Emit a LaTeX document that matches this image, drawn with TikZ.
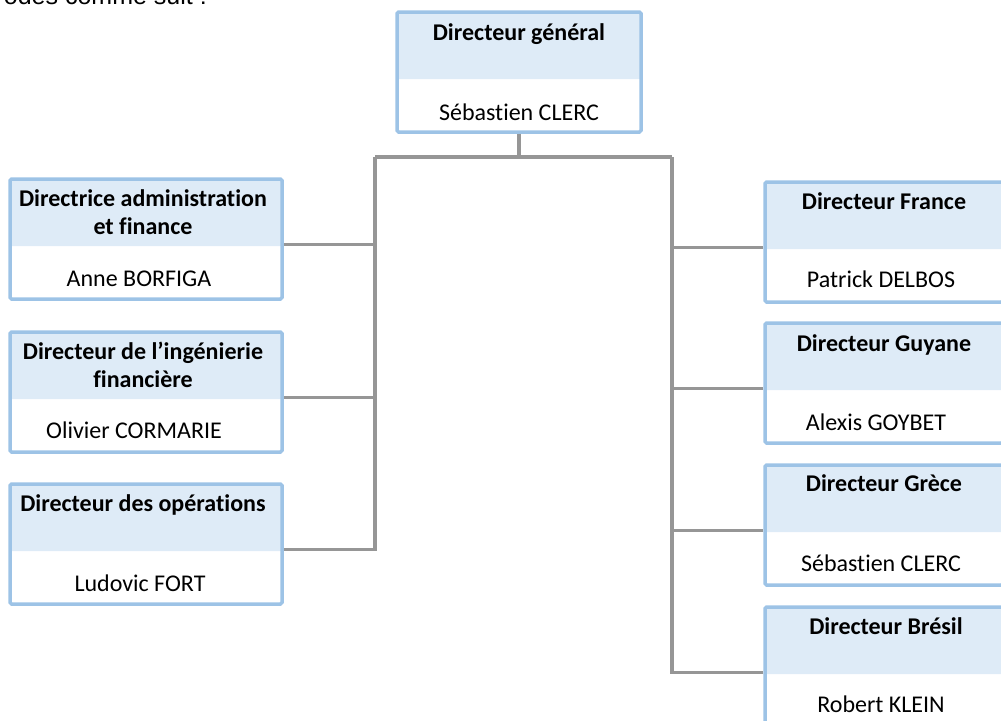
\documentclass[tikz,border=0pt]{standalone}
\usepackage{fontspec}
\setmainfont[Ligatures={NoCommon}]{Carlito}
\newfontfamily\introfont{Liberation Sans}
\usetikzlibrary{positioning}
\definecolor{boxline}{HTML}{9DC3E6}
\definecolor{boxhead}{HTML}{DEEBF7}
\definecolor{wire}{HTML}{969696}

\begin{document}
\begin{tikzpicture}[x=1pt,y=-1pt,
    unit/.style={draw=boxline, line width=3.5pt, rounded corners=1.5pt,
      minimum width=#1, minimum height=120pt, inner sep=0pt,
      path picture={\fill[boxhead] (path picture bounding box.north west)
        rectangle ([yshift=-67pt]path picture bounding box.north east);}},
    title/.style={font=\fontsize{24}{27.5}\selectfont\bfseries, align=center, inner sep=0pt, anchor=base},
    person/.style={font=\fontsize{24}{28}\selectfont, inner sep=0pt, anchor=base},
    wire/.style={draw=wire, line width=3.5pt}]
  \useasboundingbox (0,0) rectangle (1001,720);
  \clip (0,0) rectangle (1001,720);
    %end of the sentence above the chart, cut by the page
  \node[font=\introfont\fontsize{25}{30}\selectfont, inner sep=0pt, anchor=base east] (intro) at (207,5) {odes comme suit :};

    %boxes: the header colour stops where the connector comes in
  \node[unit=244pt] (dg) at (519,72) {};
  \node[unit=272pt] (daf) at (146,239) {};
  \node[unit=272pt] (ding) at (146,392) {};
  \node[unit=272pt] (dop) at (146,544) {};
  \node[unit=238pt] (dfr) at (884,242) {};
  \node[unit=238pt] (dguy) at (884,383) {};
  \node[unit=238pt] (dgre) at (884,525) {};
  \node[unit=238pt] (dbre) at (884,667) {};

    %titles and names (two-line titles sit on their last line)
  \node[title] (dg-t) at ([yshift=-30pt]dg.north) {Directeur général};
  \node[person] (dg-p) at ([yshift=-110pt]dg.north) {Sébastien CLERC};
  \node[title] (daf-t) at ([xshift=-3pt,yshift=-57pt]daf.north) {Directrice administration\\et finance};
  \node[person] (daf-p) at ([xshift=-7pt,yshift=-109pt]daf.north) {Anne BORFIGA};
  \node[title] (ding-t) at ([xshift=-3pt,yshift=-57pt]ding.north) {Directeur de l’ingénierie\\financière};
  \node[person] (ding-p) at ([xshift=-12pt,yshift=-108pt]ding.north) {Olivier CORMARIE};
  \node[title] (dop-t) at ([xshift=-3pt,yshift=-29pt]dop.north) {Directeur des opérations};
  \node[person] (dop-p) at ([xshift=-6pt,yshift=-109pt]dop.north) {Ludovic FORT};
  \node[title] (dfr-t) at ([yshift=-29pt]dfr.north) {Directeur France};
  \node[person] (dfr-p) at ([xshift=-3pt,yshift=-107pt]dfr.north) {Patrick DELBOS};
  \node[title] (dguy-t) at ([yshift=-30pt]dguy.north) {Directeur Guyane};
  \node[person] (dguy-p) at ([xshift=-8pt,yshift=-109pt]dguy.north) {Alexis GOYBET};
  \node[title] (dgre-t) at ([yshift=-28pt]dgre.north) {Directeur Grèce};
  \node[person] (dgre-p) at ([xshift=-3pt,yshift=-108pt]dgre.north) {Sébastien CLERC};
  \node[title] (dbre-t) at ([xshift=2pt,yshift=-29pt]dbre.north) {Directeur Brésil};
  \node[person] (dbre-p) at ([xshift=-3pt,yshift=-107pt]dbre.north) {Robert KLEIN};

    %connectors
  \coordinate (busl) at (375,157);
  \coordinate (busr) at (672,157);
  \draw[wire] (dg.south) -- (dg.south |- busl);
  \draw[wire] (busl) -- (busr);
  \foreach \b in {daf,ding,dop} {
    \coordinate (\b-j) at ([yshift=-67pt]\b.north east);
    \draw[wire] (\b-j) -| (busl);
  }
  \foreach \b in {dfr,dguy,dgre,dbre} {
    \coordinate (\b-j) at ([yshift=-67pt]\b.north west);
    \draw[wire] (\b-j) -| (busr);
  }
\end{tikzpicture}
\end{document}
